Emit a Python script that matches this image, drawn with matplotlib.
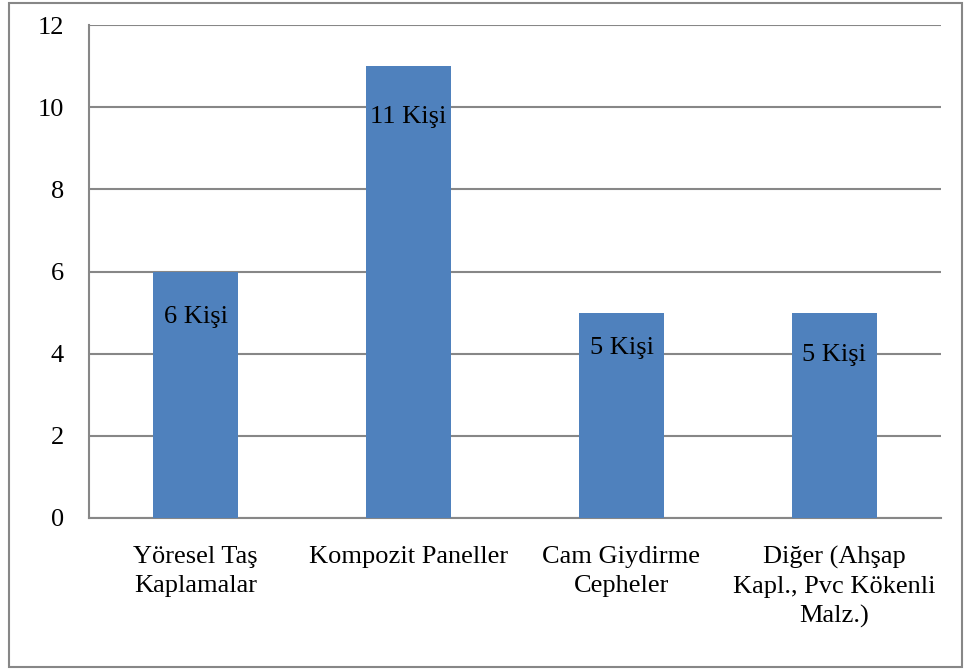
#!/usr/bin/env python3
"""Bar chart: preferred facade cladding materials (Kişi counts)."""

import matplotlib

matplotlib.use("Agg")
import matplotlib.pyplot as plt
from matplotlib.patches import Rectangle

categories = [
    "Yöresel Taş\nKaplamalar",
    "Kompozit Paneller",
    "Cam Giydirme\nCepheler",
    "Diğer (Ahşap\nKapl., Pvc Kökenli\nMalz.)",
]
values = [6, 11, 5, 5]
labels = ["6 Kişi", "11 Kişi", "5 Kişi", "5 Kişi"]
yticks = [0, 2, 4, 6, 8, 10, 12]

# label offsets below bar top (points), as in the original
label_offsets = [-32.5, -36.5, -25.5, -30.5]

BAR = "#4F81BD"
GRID = "#878787"
FS = 19

plt.rcParams["font.family"] = "serif"
plt.rcParams["font.serif"] = ["Liberation Serif", "Times New Roman", "DejaVu Serif"]

fig = plt.figure(figsize=(9.64, 6.70), dpi=100)
ax = fig.add_axes([89 / 964, 1 - 518 / 670, (941 - 89) / 964, (518 - 25) / 670])

x = list(range(len(categories)))
bars = ax.bar(x, values, width=0.4, color=BAR, zorder=3)

for rect, text, off in zip(bars, labels, label_offsets):
    ax.annotate(text, (rect.get_x() + rect.get_width() / 2, rect.get_height()),
                xytext=(0, off), textcoords="offset points",
                ha="center", va="center", fontsize=FS, color="black", zorder=4)

ax.set_xlim(-0.5, len(categories) - 0.5)
ax.set_ylim(0, 12)
ax.set_yticks(yticks)
ax.set_xticks(x)
ax.set_xticklabels(categories, fontsize=FS, linespacing=1.4)
ax.tick_params(axis="y", length=0, pad=18, labelsize=FS)
ax.tick_params(axis="x", length=0, pad=20)
ax.yaxis.grid(True, color=GRID, linewidth=1.5, zorder=0)

for side in ("top", "right"):
    ax.spines[side].set_visible(False)
for side in ("left", "bottom"):
    ax.spines[side].set_color(GRID)
    ax.spines[side].set_linewidth(1.5)

fig.patches.append(Rectangle((9 / 964, 3 / 670), 953 / 964, 664 / 670,
                             transform=fig.transFigure, fill=False,
                             edgecolor=GRID, linewidth=1.5))

fig.savefig("out.png", dpi=100)
